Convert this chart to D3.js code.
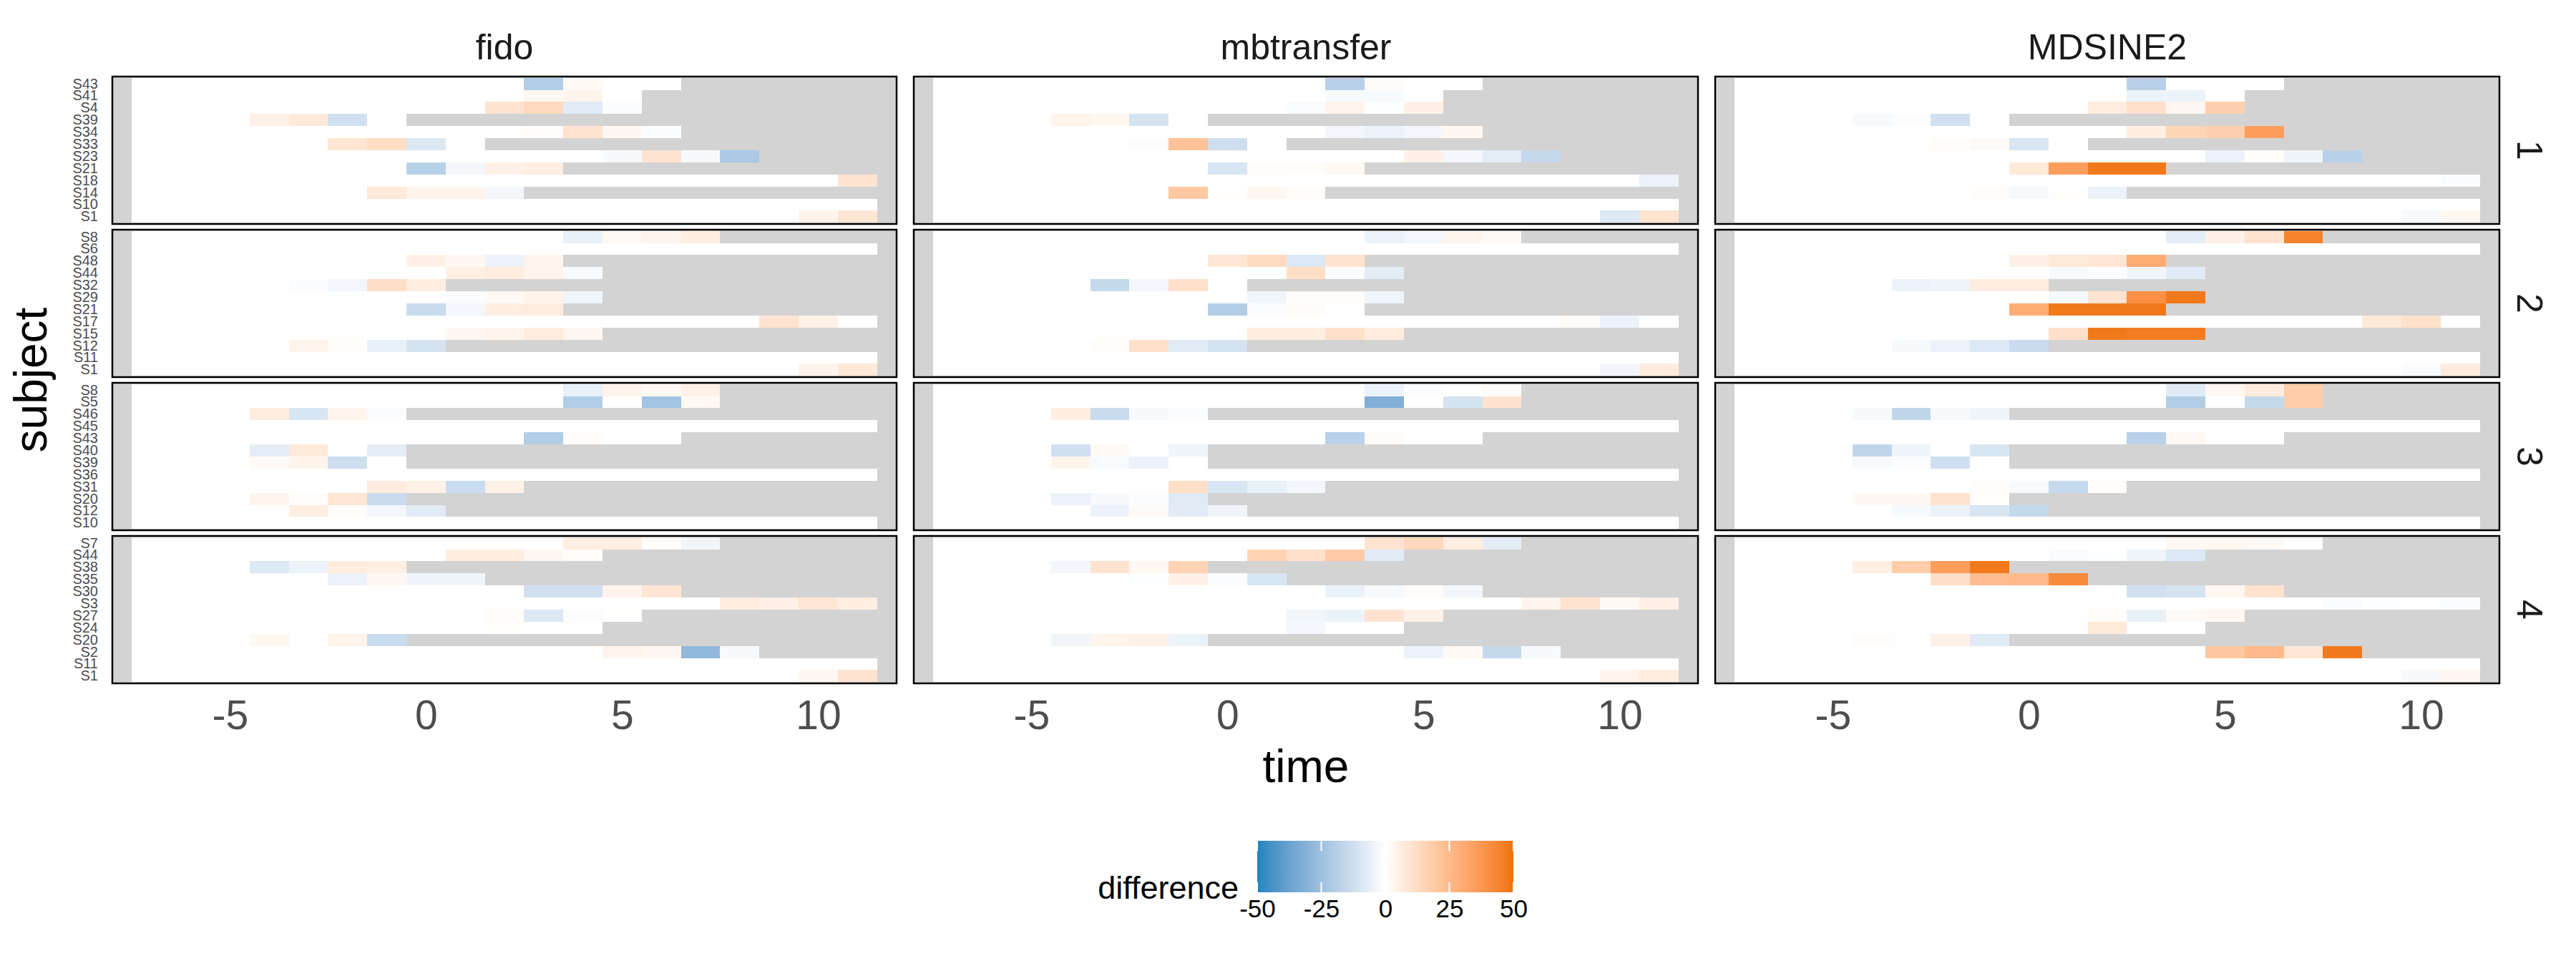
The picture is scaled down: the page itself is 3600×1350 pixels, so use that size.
<!DOCTYPE html>
<html><head><meta charset="utf-8">
<script src="https://cdn.jsdelivr.net/npm/d3@7"></script>
<style>
html,body{margin:0;padding:0;background:#fff;}
text{font-family:"Liberation Sans",Arial,Helvetica,sans-serif;}
</style></head>
<body>
<script>
// ---------- data ----------
const models = ["fido", "mbtransfer", "MDSINE2"];
const folds = ["1", "2", "3", "4"];
const timeTicks = [-5, 0, 5, 10];
const legendTicks = [-50, -25, 0, 25, 50];
const startTime = -7;

// subjects per fold (top to bottom as displayed)
const subjects1 = ["S43","S41","S4","S39","S34","S33","S23","S21","S18","S14","S10","S1"];
const subjects2 = ["S8","S6","S48","S44","S32","S29","S21","S17","S15","S12","S11","S1"];
const subjects3 = ["S8","S5","S46","S45","S43","S40","S39","S36","S31","S20","S12","S10"];
const subjects4 = ["S7","S44","S38","S35","S30","S3","S27","S24","S20","S2","S11","S1"];
// last observed time per subject
const ends1 = [6, 5, 5, -1, 6, 1, 8, 3, 11, 2, 11, 11];
const ends2 = [7, 11, 3, 4, 0, 4, 3, 11, 4, 0, 11, 11];
const ends3 = [7, 7, -1, 11, 6, -1, -1, 11, 2, -1, 0, 11];
const ends4 = [7, 4, -1, 1, 6, 11, 5, 4, -1, 8, 11, 11];

// differences at the last four time points of each subject (earlier points are 0)
const fido1 = [[-20,2,0,0],[0,3,4,0],[10,14,-8,-1],[5,8,-12,0],[1,10,3,-1],[9,12,-9,0],[-2,10,-2,-22],[-18,-3,5,6],[0,0,0,10],[8,4,4,-3],[0,0,0,0],[0,0,4,9]];
const fido2 = [[-6,3,4,6],[0,0,0,0],[5,3,-5,4],[6,7,4,-2],[-1,-3,12,6],[-1,2,4,-4],[-14,-3,6,7],[0,10,5,0],[3,4,7,3],[4,1,-6,-11],[0,0,0,0],[0,0,4,8]];
const fido3 = [[-6,4,2,5],[-20,0,-24,2],[7,-10,4,-1],[0,0,0,0],[-20,1,0,0],[-7,8,0,-7],[2,4,-13,0],[0,0,0,0],[7,5,-14,5],[4,1,9,-14],[6,1,-3,-8],[0,0,0,0]];
const fido4 = [[6,6,1,-4],[6,6,3,1],[-9,-5,7,6],[-5,3,-4,-4],[-12,-12,4,9],[7,5,9,6],[1,-9,-1,0.5],[0,0.5,0,0],[3,-0.5,4,-14],[4,3,-28,-2],[0,0,0,0],[0,0,3,10]];

const mbtransfer1 = [[-18,1.5,0,0],[0,-2,-2,0],[-1.5,4,-0.5,5],[4,3,-11,0],[-3,-5,-3,3],[-1,22,-13,0],[5,-3,-7,-15],[-10,1,1.5,2.5],[0,0,0,-5],[20,0.5,3,1.5],[0,0,0,0],[0,0,-9,10]];
const mbtransfer2 = [[-5,-3,4,2],[0,0,0,0],[9,13,-9,10],[-0.5,12,-1,-7],[-15,-3,11,0],[-4,1,1,-4],[-20,-1,1.5,0],[0,1,-5,0],[6,6,11,7],[1,11,-8,-11],[0,0,0,0],[0,0,-3,7]];
const mbtransfer3 = [[-5,-1,0,1.5],[-32,0,-11,10],[6,-14,-2,-1],[0,0,0,0],[-18,1.5,0,0],[-12,2,0,-4],[4,-2,-5,0],[0,0,0,0],[12,-10,-6,-3],[-5,-2,-1,-8],[-5,2,-8,-4],[0,0,0,0]];
const mbtransfer4 = [[10,14,6,-7],[16,11,19,-8],[-3,10,3,16],[-0.5,5,-1,-10],[-5,-2,1.5,-3],[4,10,2,5],[-4,-5,10,5],[0,-3,0,0],[-4,4,5,-5],[-5,2,-15,-2],[0,0,0,0],[0,0,4,7]];

const mdsine1 = [[-18,0,0,0],[0,-5,-5,0],[7,11,3,17],[-2,-1,-12,0],[6,15,17,35],[1,2,-10,0],[-5,1,-4,-18],[8,35,48,48],[0,0,0,-1.5],[1,-2,0.5,-5],[0,0,0,0],[0,0,-2,3]];
const mdsine2 = [[-7,5,10,45],[0,0,0,0],[5,8,9,30],[-2,-1,-4,-8],[-5,-4,7,7],[-2,10,40,48],[30,48,48,48],[0,8,11,0],[11,48,47,47],[-2,-5,-9,-14],[0,0,0,0],[0,0,-1.5,7]];
const mdsine3 = [[-8,3,7,18],[-20,0,-15,18],[-2,-16,-2,-4],[0,0,0,0],[-18,3,0,0],[-16,-4,0,-10],[-2,-1,-12,0],[0,0,0,0],[1,-2,-15,1],[3,3,10,0.5],[-2,-5,-10,-15],[0,0,0,0]];
const mdsine4 = [[3,3,2,0],[-1.5,-0.5,-4,-9],[6,18,35,48],[12,24,25,42],[-12,-11,3,10],[-1.5,-0.5,-0.3,-1.5],[1,-6,2,3],[0,8,0,0],[1,-0.5,5,-8],[20,25,9,48],[0,0,0,0],[0,0,-2,3]];

// ---------- assemble ----------
const subjectsByFold = [subjects1, subjects2, subjects3, subjects4];
const endsByFold = [ends1, ends2, ends3, ends4];
const valuesByModel = [
  [fido1, fido2, fido3, fido4],
  [mbtransfer1, mbtransfer2, mbtransfer3, mbtransfer4],
  [mdsine1, mdsine2, mdsine3, mdsine4]
];

const W = 3600, H = 1350;
const svg = d3.select("body").append("svg").attr("width", W).attr("height", H)
  .style("display","block");
svg.append("rect").attr("width", W).attr("height", H).attr("fill", "#fff");

const panelLefts = [157, 1277, 2397];
const panelW = 1096;
const panelTops = [107, 321, 535, 749];
const panelH = 206;

const color = d3.scaleLinear().domain([-50, 0, 50])
  .range(["#1a85c0", "#ffffff", "#f07309"]).interpolate(d3.interpolateLab).clamp(true);

const axisGrey = "#4d4d4d";
const fmt = d => String(d);

models.forEach((model, mi) => {
  const x = d3.scaleLinear().domain([-8, 12]).range([panelLefts[mi], panelLefts[mi] + panelW]);
  folds.forEach((fold, fi) => {
    const subs = subjectsByFold[fi];
    const ends = endsByFold[fi];
    const vals = valuesByModel[mi][fi];
    const y = d3.scaleBand().domain(subs).range([panelTops[fi], panelTops[fi] + panelH])
      .paddingInner(0).paddingOuter(0.1);
    const g = svg.append("g");
    g.append("rect").attr("x", x.range()[0]).attr("y", panelTops[fi])
      .attr("width", panelW).attr("height", panelH).attr("fill", "#d3d3d3");
    const cells = [];
    subs.forEach((s, si) => {
      const e = ends[si];
      for (let t = startTime; t <= e; t++) {
        const k = t - (e - 3);
        const v = k >= 0 ? vals[si][k] : 0;
        cells.push({s, t, v});
      }
    });
    g.selectAll("rect.cell").data(cells).enter().append("rect")
      .attr("class", "cell")
      .attr("x", d => x(d.t - 0.5))
      .attr("width", d => x(d.t + 0.5) - x(d.t - 0.5))
      .attr("y", d => y(d.s))
      .attr("height", y.bandwidth())
      .attr("fill", d => color(d.v))
      .attr("shape-rendering", "crispEdges");
    g.append("rect").attr("x", x.range()[0]).attr("y", panelTops[fi])
      .attr("width", panelW).attr("height", panelH)
      .attr("fill", "none").attr("stroke", "#000").attr("stroke-width", 2.5);

    if (mi === 0) {
      const ya = d3.axisLeft(y).tickSize(0).tickPadding(0);
      const ag = svg.append("g").attr("transform", `translate(${panelLefts[0] - 20},0)`).call(ya);
      ag.select(".domain").remove();
      ag.selectAll("text").attr("font-size", 20).attr("fill", axisGrey)
        .style("font-family", '"Liberation Sans",Arial,sans-serif');
    }
    if (mi === 2) {
      const cy = panelTops[fi] + panelH / 2;
      svg.append("text").attr("transform", `translate(3535,${cy}) rotate(90)`)
        .attr("text-anchor", "middle").attr("dy", "0.35em")
        .attr("font-size", 50).attr("fill", "#1a1a1a").text(fold);
    }
  });
  // top strip
  svg.append("text").attr("x", panelLefts[mi] + panelW / 2).attr("y", 83)
    .attr("text-anchor", "middle").attr("font-size", 50).attr("fill", "#1a1a1a").text(model);
  // x axis
  const xa = d3.axisBottom(x).tickValues(timeTicks).tickSize(0).tickPadding(0).tickFormat(fmt);
  const xg = svg.append("g").attr("transform", `translate(0,${panelTops[3] + panelH + 24})`).call(xa);
  xg.select(".domain").remove();
  xg.selectAll("text").attr("font-size", 57).attr("fill", axisGrey).attr("dy", "0.71em")
    .style("font-family", '"Liberation Sans",Arial,sans-serif');
});

// axis titles
svg.append("text").attr("x", (panelLefts[0] + panelLefts[2] + panelW) / 2).attr("y", 1093)
  .attr("text-anchor", "middle").attr("font-size", 64).attr("fill", "#000").text("time");
svg.append("text").attr("transform", `translate(65,${(panelTops[0] + panelTops[3] + panelH) / 2}) rotate(-90)`)
  .attr("text-anchor", "middle").attr("font-size", 64).attr("fill", "#000").text("subject");

// legend
const lx = d3.scaleLinear().domain([-50, 50]).range([1757, 2115]);
const barTop = 1175, barH = 72;
const defs = svg.append("defs");
const grad = defs.append("linearGradient").attr("id", "lg").attr("x1", "0%").attr("x2", "100%");
d3.range(-50, 50.01, 2).forEach(v => {
  grad.append("stop").attr("offset", ((v + 50) / 100 * 100) + "%").attr("stop-color", color(v));
});
svg.append("rect").attr("x", lx(-50)).attr("y", barTop).attr("width", lx(50) - lx(-50))
  .attr("height", barH).attr("fill", "url(#lg)");
legendTicks.forEach(v => {
  svg.append("line").attr("x1", lx(v)).attr("x2", lx(v)).attr("y1", barTop).attr("y2", barTop + barH / 5)
    .attr("stroke", "#fff").attr("stroke-width", 2);
  svg.append("line").attr("x1", lx(v)).attr("x2", lx(v)).attr("y1", barTop + barH - barH / 5).attr("y2", barTop + barH)
    .attr("stroke", "#fff").attr("stroke-width", 2);
});
const lg = svg.append("g").attr("transform", `translate(0,${barTop + barH + 10})`)
  .call(d3.axisBottom(lx).tickValues(legendTicks).tickSize(0).tickPadding(0).tickFormat(fmt));
lg.select(".domain").remove();
lg.selectAll("text").attr("font-size", 35).attr("fill", "#000").attr("dy", "0.71em")
  .style("font-family", '"Liberation Sans",Arial,sans-serif');
svg.append("text").attr("x", 1731).attr("y", 1256).attr("text-anchor", "end")
  .attr("font-size", 45).attr("fill", "#000").text("difference");
</script>
</body></html>
